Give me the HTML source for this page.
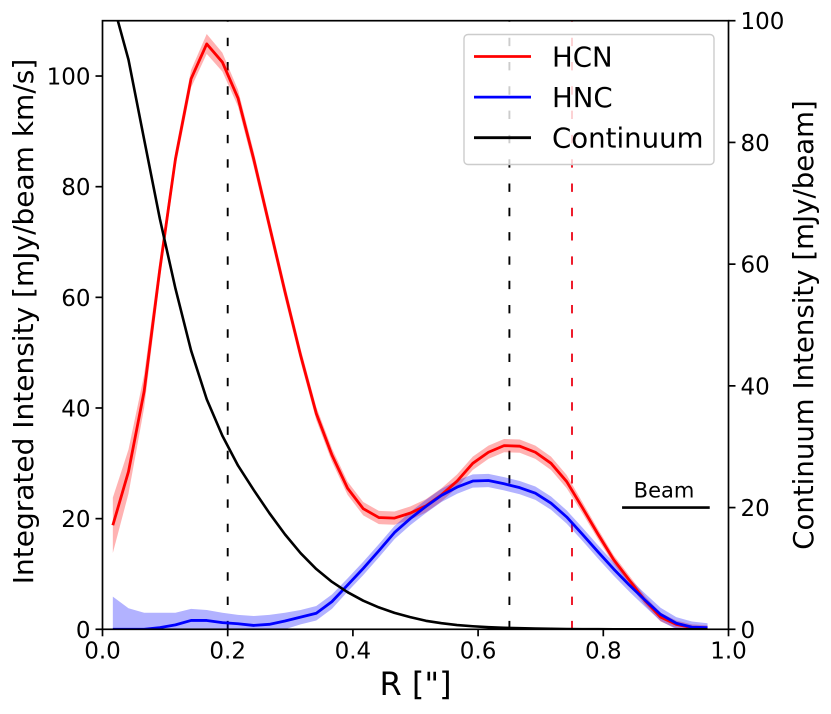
<!DOCTYPE html>
<html>
<head>
<meta charset="utf-8">
<title>HCN and HNC radial profile</title>
<style>
html,body{margin:0;padding:0;background:#fff;width:831px;height:714px;overflow:hidden}
svg{display:block}
text{font-family:"DejaVu Sans","Liberation Sans",sans-serif;fill:#000}
</style>
</head>
<body>
<svg id="chart" width="831" height="714" viewBox="0 0 831 714" xmlns="http://www.w3.org/2000/svg"></svg>
<script>
const radius = [0.0165,0.0415,0.0665,0.0915,0.1165,0.1415,0.1665,0.1915,0.2165,0.2415,0.2665,0.2915,0.3165,0.3415,0.3665,0.3915,0.4165,0.4415,0.4665,0.4915,0.5165,0.5415,0.5665,0.5915,0.6165,0.6415,0.6665,0.6915,0.7165,0.7415,0.7665,0.7915,0.8165,0.8415,0.8665,0.8915,0.9165,0.9415,0.9665];
const hcn = [18.8,28.5,43,65,85,99.5,105.8,102.5,96,85,73,61,49.5,39,31.5,25.5,21.8,20.2,20.1,21,22.3,24.3,26.8,30,32,33.2,33.1,32,30,26.7,22,17.2,12.6,8.9,5.2,2.2,0.9,0.3,0.2];
const hcnErr = [5,4,3,2,1.5,1.6,1.8,1.7,1.5,1.4,1.3,1.3,1.2,1.2,1.2,1.2,1.2,1.2,1.2,1.2,1.2,1.2,1.2,1.2,1.2,1.2,1.2,1.2,1.2,1.2,1,0.9,0.8,0.8,0.8,0.8,0.7,0.6,0.5];
const hnc = [0,0,0,0.3,0.8,1.6,1.6,1.2,1,0.7,0.9,1.5,2.2,2.9,5,8,11,14.2,17.5,20,22.2,24.2,25.7,26.8,26.9,26.3,25.6,24.6,22.8,20.3,17.2,14,10.9,8,5.3,2.7,1.1,0.4,0.3];
const hncUpper = [5.9,3.8,3,3,3,3.7,3.5,3,2.6,2.4,2.6,3,3.5,4.2,6.3,9.2,12.2,15.4,18.7,21.2,23.4,25.4,26.9,28,28.1,27.5,26.8,25.8,24,21.5,18.4,15.2,12.1,9.2,6.5,3.9,2.2,1.4,1.1];
const hncLower = [0,0,0,0,0,0,0,0,0,0,0,0,0.9,1.6,3.7,6.8,9.8,13,16.3,18.8,21,23,24.5,25.6,25.7,25.1,24.4,23.4,21.6,19.1,16,12.8,9.7,6.8,4.1,1.5,0,0,0];
const continuum = [103,93.6,80.5,67.5,56,45.8,37.8,31.8,26.9,22.9,19.1,15.6,12.5,9.9,7.8,6.1,4.7,3.6,2.7,2,1.4,1,0.7,0.5,0.35,0.25,0.18,0.12,0.08,0.05,0.03,0.02,0.01,0.01,0,0,0,0,0];
const xTicks = [0,0.2,0.4,0.6,0.8,1];
const xTickLabels = ["0.0","0.2","0.4","0.6","0.8","1.0"];
const yTicks = [0,20,40,60,80,100];
const y2Ticks = [0,20,40,60,80,100];
const guideBlack = [0.2,0.65];
const guideRed = [0.75];
const beamRange = [0.83,0.97];
const beamLevel = [22];

const NS = "http://www.w3.org/2000/svg";
const svg = document.getElementById("chart");
const L = 102.5, R = 728.5, T = 20.7, B = 629.3;
const sx = v => L + (R - L) * v;
const sy = v => B - (B - T) * v / 110;
const sy2 = v => B - (B - T) * v / 100;

function make(tag, attrs, parent) {
  const el = document.createElementNS(NS, tag);
  for (const k in attrs) el.setAttribute(k, attrs[k]);
  (parent || svg).appendChild(el);
  return el;
}

const defs = make("defs", {});
const clip = make("clipPath", {id: "plot-clip"}, defs);
make("rect", {x: L, y: T, width: R - L, height: B - T}, clip);
const plot = make("g", {"clip-path": "url(#plot-clip)"});



function linePath(xs, ys, fy) {
  return xs.map((x, i) => (i ? "L" : "M") + sx(x).toFixed(2) + " " + fy(ys[i]).toFixed(2)).join(" ");
}
function bandPath(xs, lo, hi, fy) {
  const up = xs.map((x, i) => (i ? "L" : "M") + sx(x).toFixed(2) + " " + fy(hi[i]).toFixed(2)).join(" ");
  const down = xs.slice().reverse().map((x, i) => "L" + sx(x).toFixed(2) + " " + fy(lo[xs.length - 1 - i]).toFixed(2)).join(" ");
  return up + " " + down + " Z";
}

guideBlack.forEach(v => {
  const g = make("line", {x1: sx(v), x2: sx(v), y1: B, y2: T, stroke: "#000", "stroke-width": 1.9, "stroke-dasharray": "8.4 15.9"}, plot);
  
  
});
guideRed.forEach(v => {
  const g = make("line", {x1: sx(v), x2: sx(v), y1: B, y2: T, stroke: "#ee1122", "stroke-width": 1.9, "stroke-dasharray": "8.4 15.9"}, plot);
  
  
});

const hcnBand = make("path", {
  d: bandPath(radius, hcn.map((v, i) => v - hcnErr[i]), hcn.map((v, i) => v + hcnErr[i]), sy),
  fill: "#ff0000", "fill-opacity": 0.3, stroke: "none"
}, plot);



const hncBand = make("path", {
  d: bandPath(radius, hncLower, hncUpper, sy),
  fill: "#0000ff", "fill-opacity": 0.3, stroke: "none"
}, plot);



const hcnLine = make("path", {d: linePath(radius, hcn, sy), fill: "none", stroke: "#ff0000", "stroke-width": 2.8, "stroke-linejoin": "round"}, plot);



const hncLine = make("path", {d: linePath(radius, hnc, sy), fill: "none", stroke: "#0000ff", "stroke-width": 2.8, "stroke-linejoin": "round"}, plot);



const contLine = make("path", {d: linePath(radius, continuum, sy2), fill: "none", stroke: "#000", "stroke-width": 2.6, "stroke-linejoin": "round"}, plot);



const beam = make("line", {x1: sx(beamRange[0]), x2: sx(beamRange[1]), y1: sy(beamLevel[0]), y2: sy(beamLevel[0]), stroke: "#000", "stroke-width": 2.6});



const beamLabel = make("text", {x: 664, y: 497.5, "text-anchor": "middle", "font-size": 21});
beamLabel.textContent = "Beam";



const frame = make("rect", {x: L, y: T, width: R - L, height: B - T, fill: "none", stroke: "#000", "stroke-width": 1.7});



xTicks.forEach((v, i) => {
  const t = make("line", {x1: sx(v), x2: sx(v), y1: B, y2: B + 7, stroke: "#000", "stroke-width": 1.7});
  
  
  const lab = make("text", {x: sx(v), y: 658.5, "text-anchor": "middle", "font-size": 23});
  lab.textContent = xTickLabels[i];
  
  
});
yTicks.forEach(v => {
  const t = make("line", {x1: L - 7, x2: L, y1: sy(v), y2: sy(v), stroke: "#000", "stroke-width": 1.7});
  
  
  const lab = make("text", {x: L - 12, y: sy(v) + 8.5, "text-anchor": "end", "font-size": 23});
  lab.textContent = String(v);
  
  
});
y2Ticks.forEach(v => {
  const t = make("line", {x1: R, x2: R + 7, y1: sy2(v), y2: sy2(v), stroke: "#000", "stroke-width": 1.7});
  
  
  const lab = make("text", {x: R + 12, y: sy2(v) + 8.5, "text-anchor": "start", "font-size": 23});
  lab.textContent = String(v);
  
  
});

const xTitle = make("text", {x: 415.5, y: 695, "text-anchor": "middle", "font-size": 32});
xTitle.textContent = 'R ["]';



const yTitle = make("text", {transform: "translate(33 321.5) rotate(-90)", "text-anchor": "middle", "font-size": 28});
yTitle.textContent = "Integrated Intensity [mJy/beam km/s]";



const y2Title = make("text", {transform: "translate(813 325) rotate(-90)", "text-anchor": "middle", "font-size": 27.6});
y2Title.textContent = "Continuum Intensity [mJy/beam]";



const legend = make("g", {});


const legendBox = make("rect", {x: 464, y: 34.5, width: 250, height: 130, rx: 4, ry: 4, fill: "#fff", "fill-opacity": 0.8, stroke: "#ccc", "stroke-width": 1.4}, legend);



const legendLabels = ["HCN", "HNC", "Continuum"];
const legendColors = ["#ff0000", "#0000ff", "#000000"];
legendLabels.forEach((name, i) => {
  const y = 56.5 + i * 40.6;
  const sw = make("line", {x1: 474, x2: 531, y1: y, y2: y, stroke: legendColors[i], "stroke-width": 2.8}, legend);
  
  
  const t = make("text", {x: 552, y: y + 10, "font-size": 27.6}, legend);
  t.textContent = name;
  
  
});
</script>
</body>
</html>
